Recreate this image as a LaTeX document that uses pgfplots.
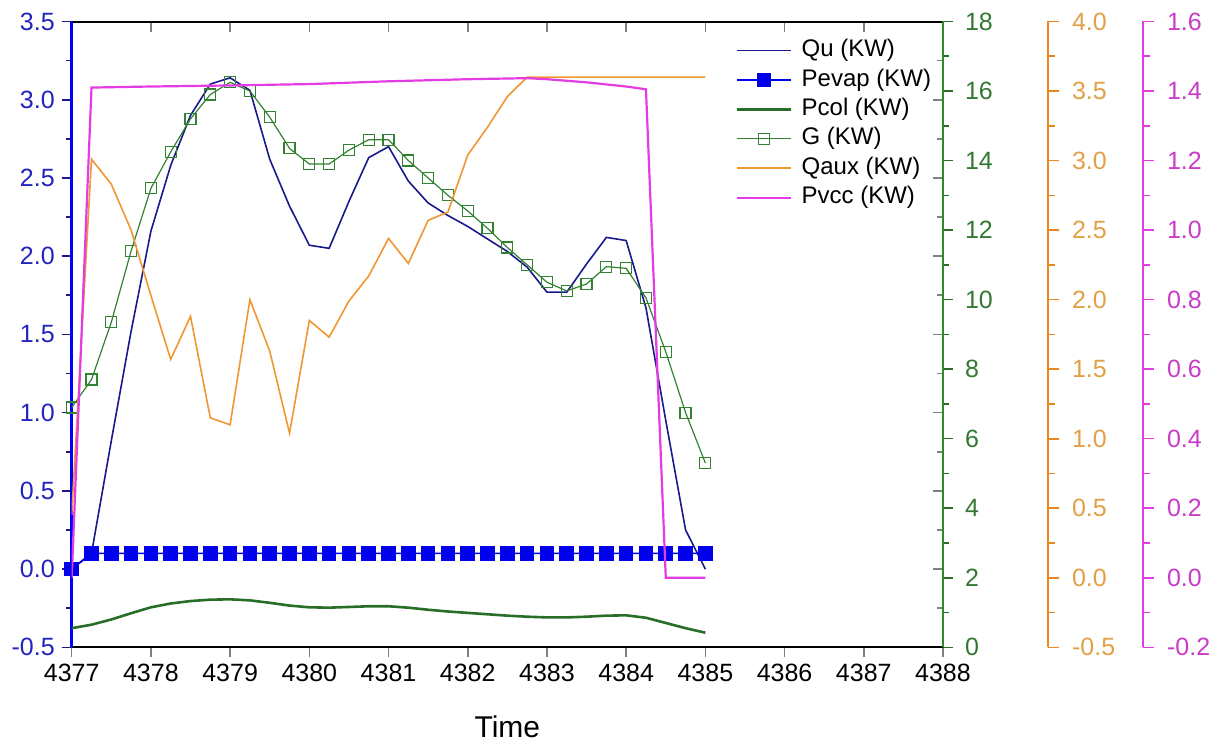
\documentclass[border=0pt]{standalone}
\usepackage{fontspec}
\setmainfont{Liberation Sans}
\usepackage{pgfplots}
\pgfplotsset{compat=1.18}
\definecolor{axblue}{RGB}{0,0,255}
\definecolor{lblblue}{RGB}{35,35,190}
\definecolor{qucol}{RGB}{25,25,140}
\definecolor{pevcol}{RGB}{0,0,235}
\definecolor{grnax}{RGB}{40,140,40}
\definecolor{grnlbl}{RGB}{50,120,50}
\definecolor{pcolcol}{RGB}{40,110,40}
\definecolor{gcol}{RGB}{50,130,50}
\definecolor{orgcol}{RGB}{240,150,50}
\definecolor{orgax}{RGB}{235,135,30}
\definecolor{orglbl}{RGB}{225,160,70}
\definecolor{magcol}{RGB}{228,60,228}
\definecolor{maglbl}{RGB}{200,60,200}
\pgfplotsset{
  base/.style={scale only axis, width=435.65pt, height=312.9pt,
    at={(35.85pt,48.85pt)}, anchor=south west, xmin=4377, xmax=4388,
    major tick length=5pt, minor tick length=3pt,
    tick style={line width=0.8pt},
    tick label style={font=\fontsize{12.5}{14}\selectfont},
    /pgf/number format/assume math mode=true},
  scaleax/.style={scale only axis, width=10pt, height=312.9pt, anchor=south west,
    xmin=0, xmax=1, hide x axis, axis y line*=right, tick align=outside,
    major tick length=5.5pt, minor tick length=3.5pt,
    tick style={line width=0.8pt},
    tick label style={font=\fontsize{12.5}{14}\selectfont},
    /pgf/number format/assume math mode=true},
}
\begin{document}
\begin{tikzpicture}
\path[use as bounding box] (0,0) rectangle (610.5pt,372.5pt);
% mirror (top axis + inner right ticks)
\begin{axis}[base, ymin=-0.5, ymax=3.5, axis x line*=top, axis y line*=right,
  tick align=inside, xtick={4377,4378,...,4388}, minor x tick num=1,
  ytick={-0.5,0,0.5,1,1.5,2,2.5,3,3.5}, minor y tick num=1,
  xticklabels={}, yticklabels={},
  x axis line style={line width=1pt}, y axis line style={line width=1pt}]
\addplot[draw=none] coordinates {(4377,0)};
\end{axis}
% main blue axis
\begin{axis}[base, ymin=-0.5, ymax=3.5, axis x line*=bottom, axis y line*=left,
  tick align=outside, xtick={4377,4378,...,4388}, minor x tick num=1,
  ytick={-0.5,0,0.5,1,1.5,2,2.5,3,3.5}, minor y tick num=1,
  scaled x ticks=false,
  xticklabel style={/pgf/number format/.cd, 1000 sep={}},
  yticklabel style={color=lblblue, /pgf/number format/.cd, fixed, fixed zerofill, precision=1},
  x axis line style={line width=1pt}, y axis line style={axblue, line width=1.6pt},
  ytick style={color=qucol},
  xlabel={Time},
  xlabel style={font=\fontsize{15}{17}\selectfont, at={(rel axis cs:0.5,0)}, anchor=center, yshift=-39.5pt}]
\addplot[qucol, line width=0.8pt] coordinates {
(4377,0.0) (4377.25,0.1) (4377.5,0.82) (4377.75,1.52) (4378,2.16) (4378.25,2.58)
(4378.5,2.9) (4378.75,3.1) (4379,3.14) (4379.25,3.06) (4379.5,2.62) (4379.75,2.32)
(4380,2.07) (4380.25,2.05) (4380.5,2.35) (4380.75,2.63) (4381,2.70) (4381.25,2.48)
(4381.5,2.34) (4381.75,2.26) (4382,2.19) (4382.25,2.11) (4382.5,2.03) (4382.75,1.93)
(4383,1.77) (4383.25,1.77) (4383.5,1.95) (4383.75,2.12) (4384,2.10) (4384.25,1.67)
(4384.5,0.95) (4384.75,0.25) (4385,0.0)};
\addplot[pevcol, line width=0.8pt, mark=square*, mark size=3.25pt, mark options={solid, fill=pevcol}] coordinates {
(4377,0.0) (4377.25,0.1) (4377.5,0.1) (4377.75,0.1) (4378,0.1) (4378.25,0.1) (4378.5,0.1)
(4378.75,0.1) (4379,0.1) (4379.25,0.1) (4379.5,0.1) (4379.75,0.1) (4380,0.1) (4380.25,0.1)
(4380.5,0.1) (4380.75,0.1) (4381,0.1) (4381.25,0.1) (4381.5,0.1) (4381.75,0.1) (4382,0.1)
(4382.25,0.1) (4382.5,0.1) (4382.75,0.1) (4383,0.1) (4383.25,0.1) (4383.5,0.1) (4383.75,0.1)
(4384,0.1) (4384.25,0.1) (4384.5,0.1) (4384.75,0.1) (4385,0.1)};
\end{axis}
% green axis
\begin{axis}[base, ymin=0, ymax=18, hide x axis, axis y line*=right,
  tick align=outside, ytick={0,2,...,18}, minor y tick num=1,
  yticklabel style={color=grnlbl, xshift=2.5pt},
  y axis line style={grnax, line width=1.2pt}, ytick style={color=pcolcol}]
\addplot[pcolcol, line width=1.3pt] coordinates {
(4377,0.55) (4377.25,0.65) (4377.5,0.8) (4377.75,0.98) (4378,1.15) (4378.25,1.26)
(4378.5,1.33) (4378.75,1.37) (4379,1.38) (4379.25,1.35) (4379.5,1.28) (4379.75,1.2)
(4380,1.15) (4380.25,1.14) (4380.5,1.16) (4380.75,1.18) (4381,1.18) (4381.25,1.14)
(4381.5,1.08) (4381.75,1.03) (4382,0.99) (4382.25,0.95) (4382.5,0.91) (4382.75,0.88)
(4383,0.86) (4383.25,0.86) (4383.5,0.88) (4383.75,0.91) (4384,0.92) (4384.25,0.85)
(4384.5,0.7) (4384.75,0.55) (4385,0.42)};
\addplot[gcol, line width=0.6pt, mark=square, mark size=2.75pt, mark options={solid, fill=white}] coordinates {
(4377,6.9) (4377.25,7.7) (4377.5,9.35) (4377.75,11.4) (4378,13.2) (4378.25,14.25)
(4378.5,15.2) (4378.75,15.9) (4379,16.25) (4379.25,16.0) (4379.5,15.25) (4379.75,14.35)
(4380,13.9) (4380.25,13.9) (4380.5,14.3) (4380.75,14.6) (4381,14.6) (4381.25,14.0)
(4381.5,13.5) (4381.75,13.0) (4382,12.55) (4382.25,12.05) (4382.5,11.5) (4382.75,11.0)
(4383,10.5) (4383.25,10.25) (4383.5,10.45) (4383.75,10.95) (4384,10.9) (4384.25,10.05)
(4384.5,8.5) (4384.75,6.75) (4385,5.3)};
\end{axis}
% orange data
\begin{axis}[base, ymin=-0.5, ymax=4, hide axis]
\addplot[orgcol, line width=0.8pt] coordinates {
(4377,0.45) (4377.25,3.01) (4377.5,2.83) (4377.75,2.5) (4378,2.03) (4378.25,1.57)
(4378.5,1.88) (4378.75,1.15) (4379,1.1) (4379.25,2.0) (4379.5,1.63) (4379.75,1.04)
(4380,1.85) (4380.25,1.73) (4380.5,1.99) (4380.75,2.17) (4381,2.44) (4381.25,2.26)
(4381.5,2.57) (4381.75,2.63) (4382,3.04) (4382.25,3.24) (4382.5,3.46) (4382.75,3.6)
(4383,3.6) (4383.5,3.6) (4384,3.6) (4384.5,3.6) (4385,3.6)};
\end{axis}
% magenta data + legend
\begin{axis}[base, ymin=-0.2, ymax=1.6, hide axis,
  legend style={at={(rel axis cs:0.759,0.978)}, anchor=north west, draw=none, fill=none,
    font=\fontsize{12}{14}\selectfont, row sep=1.7pt, column sep=4pt, inner sep=1pt,
    nodes={inner sep=0.5pt, text height=9pt, text depth=3pt}},
  legend cell align=left,
  legend image code/.code={\draw[mark repeat=2,mark phase=2,#1] plot coordinates {(0cm,0cm)(0.48cm,0cm)(0.96cm,0cm)};}]
\addlegendimage{qucol, line width=0.8pt}
\addlegendentry{Qu (KW)}
\addlegendimage{pevcol, line width=0.8pt, mark=square*, mark size=3.25pt, mark options={solid, fill=pevcol}}
\addlegendentry{Pevap (KW)}
\addlegendimage{pcolcol, line width=1.3pt}
\addlegendentry{Pcol (KW)}
\addlegendimage{gcol, line width=0.6pt, mark=square, mark size=2.75pt, mark options={solid, fill=white}}
\addlegendentry{G (KW)}
\addlegendimage{orgcol, line width=0.8pt}
\addlegendentry{Qaux (KW)}
\addplot[magcol, line width=1.1pt] coordinates {
(4377,0.0) (4377.25,1.41) (4378,1.413) (4379,1.416) (4380,1.42) (4381,1.428) (4382,1.434)
(4382.75,1.437) (4383,1.434) (4383.5,1.425) (4384,1.413) (4384.25,1.405) (4384.5,0.0)
(4384.75,0.0) (4385,0.0)};
\addlegendentry{Pvcc (KW)}
\end{axis}
% orange scale
\begin{axis}[scaleax, at={(514pt,48.85pt)}, ymin=-0.5, ymax=4,
  ytick={-0.5,0,0.5,1,1.5,2,2.5,3,3.5,4}, minor y tick num=1,
  yticklabel style={color=orglbl, xshift=3pt, /pgf/number format/.cd, fixed, fixed zerofill, precision=1},
  y axis line style={orgax, line width=1.2pt}, ytick style={color=orgax}]
\addplot[draw=none] coordinates {(0,0)};
\end{axis}
% magenta scale
\begin{axis}[scaleax, at={(561.5pt,48.85pt)}, ymin=-0.2, ymax=1.6,
  ytick={-0.2,0,0.2,0.4,0.6,0.8,1,1.2,1.4,1.6}, minor y tick num=1,
  yticklabel style={color=maglbl, xshift=3pt, /pgf/number format/.cd, fixed, fixed zerofill, precision=1},
  y axis line style={magcol, line width=1.2pt}, ytick style={color=magcol}]
\addplot[draw=none] coordinates {(0,0)};
\end{axis}
\end{tikzpicture}
\end{document}
